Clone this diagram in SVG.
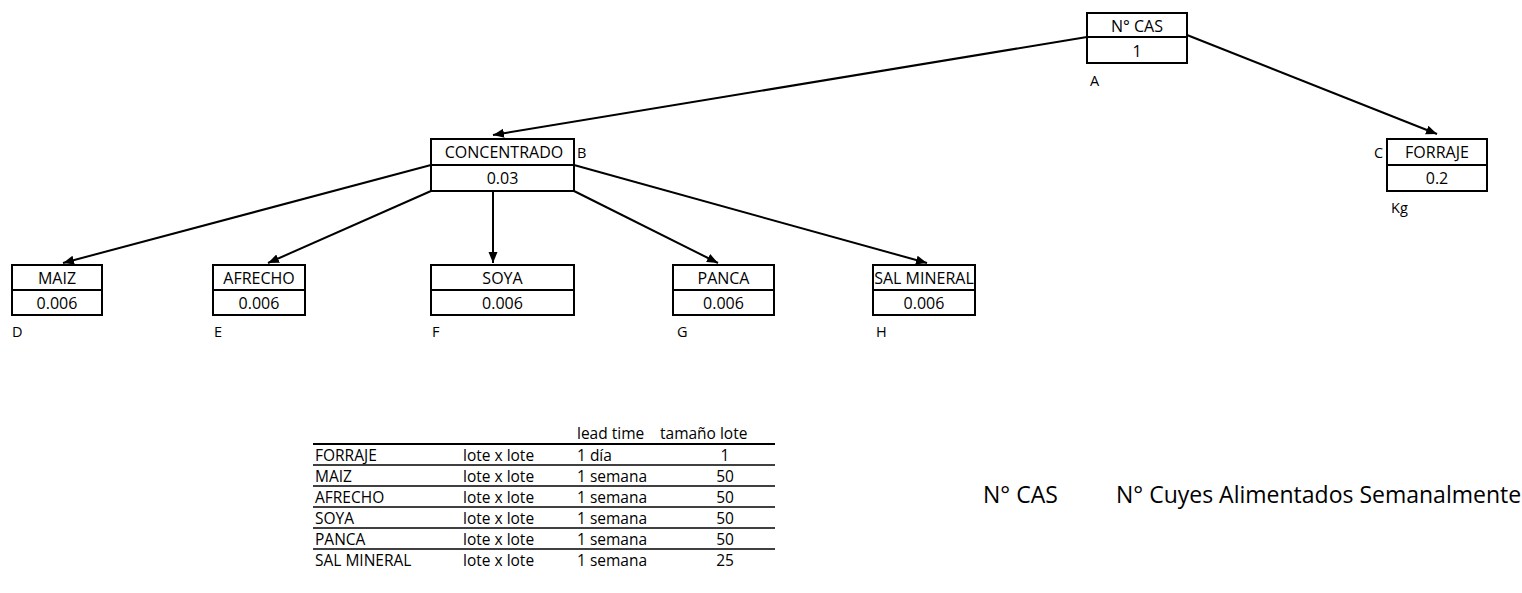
<svg xmlns="http://www.w3.org/2000/svg" width="1522" height="593" viewBox="0 0 1522 593">
<style>
text{font-family:"Open Sans","Liberation Sans",sans-serif;fill:#000}
.nt{font-size:16px;text-anchor:middle}
.lb{font-size:14.5px}
.tb{font-size:15.5px}
.tv{font-size:15.5px;text-anchor:middle}
.big{font-size:23px}
.box{fill:#fff;stroke:#000;stroke-width:2}
.dv{stroke:#000;stroke-width:2}
.cn{stroke:#000;stroke-width:2;fill:none;marker-end:url(#ah)}
.tl{stroke:#000;stroke-width:1.3}
</style>
<defs>
<marker id="ah" markerUnits="userSpaceOnUse" markerWidth="12" markerHeight="10" refX="11" refY="4.5" orient="auto">
<path d="M0,0 L11,4.5 L0,9 z" fill="#000"/>
</marker>
</defs>
<rect width="1522" height="593" fill="#fff"/>
<g id="connectors">
<path class="cn" d="M1087,37 L493,135"/>
<path class="cn" d="M1187,35 L1437,134"/>
<path class="cn" d="M431,165 L63,263"/>
<path class="cn" d="M431,191 L268,263"/>
<path class="cn" d="M493,191 L493,263"/>
<path class="cn" d="M574,191 L718,263"/>
<path class="cn" d="M574,165 L927,263"/>
</g>
<g id="nodeA">
<rect class="box" x="1087" y="13" width="100" height="50"/>
<line class="dv" x1="1087" y1="37" x2="1187" y2="37"/>
<text class="nt" x="1137" y="32">N° CAS</text>
<text class="nt" x="1137" y="57">1</text>
<text class="lb" x="1090" y="86">A</text>
</g>
<g id="nodeB">
<rect class="box" x="431" y="139" width="143" height="52"/>
<line class="dv" x1="431" y1="165" x2="574" y2="165"/>
<text class="nt" x="504" y="158">CONCENTRADO</text>
<text class="nt" x="502.5" y="184">0.03</text>
<text class="lb" x="577" y="158">B</text>
</g>
<g id="nodeC">
<rect class="box" x="1387" y="139" width="100" height="52"/>
<line class="dv" x1="1387" y1="165" x2="1487" y2="165"/>
<text class="nt" x="1437" y="158">FORRAJE</text>
<text class="nt" x="1437" y="184">0.2</text>
<text class="lb" x="1374" y="158">C</text>
<text class="lb" x="1391" y="213">Kg</text>
</g>
<g id="nodeD">
<rect class="box" x="12" y="265" width="90" height="50"/>
<line class="dv" x1="12" y1="290" x2="102" y2="290"/>
<text class="nt" x="57" y="284">MAIZ</text>
<text class="nt" x="57" y="309">0.006</text>
<text class="lb" x="12" y="337">D</text>
</g>
<g id="nodeE">
<rect class="box" x="213" y="265" width="92" height="50"/>
<line class="dv" x1="213" y1="290" x2="305" y2="290"/>
<text class="nt" x="259" y="284">AFRECHO</text>
<text class="nt" x="259" y="309">0.006</text>
<text class="lb" x="214" y="337">E</text>
</g>
<g id="nodeF">
<rect class="box" x="431" y="265" width="143" height="50"/>
<line class="dv" x1="431" y1="290" x2="574" y2="290"/>
<text class="nt" x="502.5" y="284">SOYA</text>
<text class="nt" x="502.5" y="309">0.006</text>
<text class="lb" x="432" y="337">F</text>
</g>
<g id="nodeG">
<rect class="box" x="673" y="265" width="101" height="50"/>
<line class="dv" x1="673" y1="290" x2="774" y2="290"/>
<text class="nt" x="723.5" y="284">PANCA</text>
<text class="nt" x="723.5" y="309">0.006</text>
<text class="lb" x="677" y="337">G</text>
</g>
<g id="nodeH">
<rect class="box" x="873" y="265" width="102" height="50"/>
<line class="dv" x1="873" y1="290" x2="975" y2="290"/>
<text class="nt" x="924" y="284">SAL MINERAL</text>
<text class="nt" x="924" y="309">0.006</text>
<text class="lb" x="876" y="337">H</text>
</g>
<g id="table">
<line x1="313" y1="444" x2="775" y2="444" stroke="#000" stroke-width="2"/>
<line class="tl" x1="313" y1="465" x2="775" y2="465"/>
<line class="tl" x1="313" y1="486" x2="775" y2="486"/>
<line class="tl" x1="313" y1="507" x2="775" y2="507"/>
<line class="tl" x1="313" y1="528" x2="775" y2="528"/>
<line class="tl" x1="313" y1="549" x2="775" y2="549"/>
<text class="tb" x="577" y="439">lead time</text>
<text class="tb" x="660" y="439">tamaño lote</text>
<text class="tb" x="315" y="461">FORRAJE</text>
<text class="tb" x="463" y="461">lote x lote</text>
<text class="tb" x="577" y="461">1 día</text>
<text class="tv" x="725" y="461">1</text>
<text class="tb" x="315" y="482">MAIZ</text>
<text class="tb" x="463" y="482">lote x lote</text>
<text class="tb" x="577" y="482">1 semana</text>
<text class="tv" x="725" y="482">50</text>
<text class="tb" x="315" y="503">AFRECHO</text>
<text class="tb" x="463" y="503">lote x lote</text>
<text class="tb" x="577" y="503">1 semana</text>
<text class="tv" x="725" y="503">50</text>
<text class="tb" x="315" y="524">SOYA</text>
<text class="tb" x="463" y="524">lote x lote</text>
<text class="tb" x="577" y="524">1 semana</text>
<text class="tv" x="725" y="524">50</text>
<text class="tb" x="315" y="545">PANCA</text>
<text class="tb" x="463" y="545">lote x lote</text>
<text class="tb" x="577" y="545">1 semana</text>
<text class="tv" x="725" y="545">50</text>
<text class="tb" x="315" y="566">SAL MINERAL</text>
<text class="tb" x="463" y="566">lote x lote</text>
<text class="tb" x="577" y="566">1 semana</text>
<text class="tv" x="725" y="566">25</text>
</g>
<g id="legend">
<text class="big" x="983" y="503">N° CAS</text>
<text class="big" x="1116" y="503">N° Cuyes Alimentados Semanalmente</text>
</g>
</svg>
